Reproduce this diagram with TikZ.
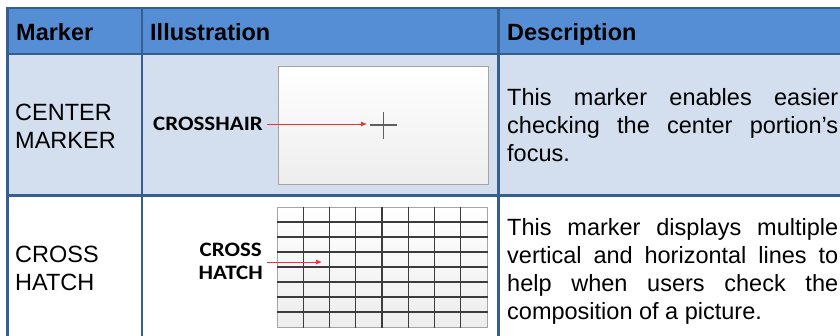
\documentclass[tikz,border=0pt]{standalone}
\usepackage{fontspec}
\setmainfont{Liberation Sans}
\newfontfamily\carl{Carlito}
\usetikzlibrary{arrows.meta,calc}
\definecolor{hdr}{RGB}{85,142,213}
\definecolor{rowa}{RGB}{211,223,238}
\definecolor{bord}{RGB}{54,95,145}
\definecolor{scrb}{RGB}{165,165,165}
\definecolor{gridc}{RGB}{60,60,60}
\definecolor{crossc}{RGB}{95,95,95}
\definecolor{arr}{RGB}{240,50,50}
\begin{document}
\hyphenpenalty=10000\relax
\exhyphenpenalty=10000\relax
\begin{tikzpicture}[x=1pt,y=-1pt,
  cell/.style={anchor=base west,inner sep=0pt,font=\fontsize{23.5}{27.8}\selectfont},
  hdrtext/.style={cell,font=\fontsize{23.5}{27.8}\selectfont\bfseries},
  twoline/.style={cell,text width=125pt,align=left},
  desc/.style={cell,text width=331pt,align=justify},
  lab/.style={inner sep=0pt,font=\carl\bfseries\fontsize{20.5}{22.7}\selectfont,xscale=1.12,align=center},
  screen/.style={draw=scrb,line width=0.8pt,top color=white,bottom color=black!7,inner sep=0pt,anchor=north west,minimum width=210pt},
  redarrow/.style={draw=arr,line width=0.8pt,-{Latex[length=6pt,width=5pt]},shorten <=4pt},
  rule/.style={draw=bord,line width=2.6pt},
  gridline/.style={draw=gridc,line width=1.3pt},
  crossline/.style={draw=crossc,line width=1.4pt}
]
\useasboundingbox (0,0) rectangle (840,335);
\clip (0,0) rectangle (840,335);
% backgrounds
\fill[hdr] (7,8) rectangle (842,54);
\fill[rowa] (7,54) rectangle (842,195.5);
\fill[white] (7,195.5) rectangle (842,337);
% header texts
\node[hdrtext] (hm) at (16,40) {Marker};
\node[hdrtext] (hi) at (150,40) {Illustration};
\node[hdrtext] (hd) at (507,40) {Description};
% row 1
\node[twoline] (m1) at (15,120.7) {CENTER\\MARKER};
\node[screen,minimum height=118pt] (s1) at (278,66) {};
\draw[crossline] (370,124.8) -- (397,124.8);
\draw[crossline] (383.3,111.7) -- (383.3,139.3);
\node[lab,anchor=east] (l1) at (263,124) {CROSSHAIR};
\coordinate (t1) at (367,124);
\draw[redarrow] (l1.east) -- (t1);
\node[desc] (d1) at (507,105.7) {This marker enables easier\linebreak checking the center portion’s\linebreak focus.};
% row 2
\node[twoline] (m2) at (15,262.5) {CROSS\\HATCH};
\node[screen,minimum height=120pt] (s2) at (277,207) {};
\foreach \i in {1,...,7} {
  \draw[gridline] ($(s2.north west)+(26.25*\i,0)$) -- ($(s2.south west)+(26.25*\i,0)$);
  \draw[gridline] ($(s2.north west)+(0,15*\i)$) -- ($(s2.north east)+(0,15*\i)$);
}
\node[lab,anchor=east] (l2) at (263,261.3) {CROSS\\HATCH};
\coordinate (t2) at (322,262);
\draw[redarrow] (l2.east |- t2) -- (t2);
\node[desc] (d2) at (507,235.7) {This marker displays multiple\linebreak vertical and horizontal lines to\linebreak help when users check the\linebreak composition of a picture.};
% borders
\draw[rule] (6.2,8) -- (842,8);
\draw[rule] (6.2,53.8) -- (842,53.8);
\draw[rule] (6.2,195.5) -- (842,195.5);
\draw[rule] (7.5,6.7) -- (7.5,337);
\draw[rule] (142,6.7) -- (142,337);
\draw[rule] (498.7,6.7) -- (498.7,337);
\end{tikzpicture}
\end{document}
